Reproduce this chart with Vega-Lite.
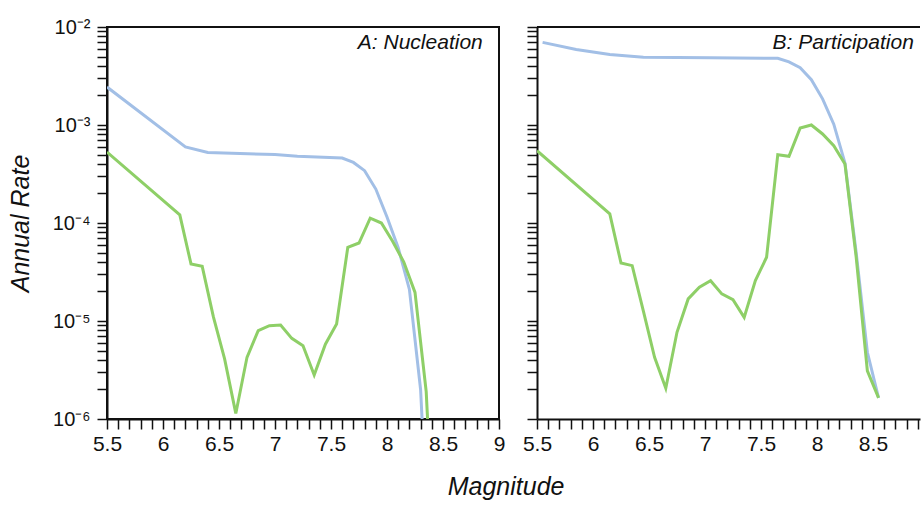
{
  "$schema": "https://vega.github.io/schema/vega-lite/v6.json",
  "padding": {"left": 7, "top": 16, "right": 0, "bottom": 0},
  "spacing": 38,
  "bounds": "flush",
  "title": {"text": "Magnitude", "orient": "bottom", "anchor": "middle", "fontSize": 25, "fontStyle": "italic", "fontWeight": "normal", "color": "#111", "offset": 20, "dx": 42},
  "datasets": {
    "rates": [
      {"panel": "A", "series": "total", "M": 5.5, "rate": 2.44e-3},
      {"panel": "A", "series": "total", "M": 6.2, "rate": 5.97e-4},
      {"panel": "A", "series": "total", "M": 6.4, "rate": 5.24e-4},
      {"panel": "A", "series": "total", "M": 7.0, "rate": 5.0e-4},
      {"panel": "A", "series": "total", "M": 7.2, "rate": 4.8e-4},
      {"panel": "A", "series": "total", "M": 7.6, "rate": 4.6e-4},
      {"panel": "A", "series": "total", "M": 7.7, "rate": 4.15e-4},
      {"panel": "A", "series": "total", "M": 7.8, "rate": 3.42e-4},
      {"panel": "A", "series": "total", "M": 7.9, "rate": 2.22e-4},
      {"panel": "A", "series": "total", "M": 8.0, "rate": 1.15e-4},
      {"panel": "A", "series": "total", "M": 8.1, "rate": 5.6e-5},
      {"panel": "A", "series": "total", "M": 8.2, "rate": 2.1e-5},
      {"panel": "A", "series": "total", "M": 8.3, "rate": 2.0e-6},
      {"panel": "A", "series": "total", "M": 8.4, "rate": 1e-8},
      {"panel": "A", "series": "fault", "M": 5.5, "rate": 5.3e-4},
      {"panel": "A", "series": "fault", "M": 6.15, "rate": 1.21e-4},
      {"panel": "A", "series": "fault", "M": 6.25, "rate": 3.82e-5},
      {"panel": "A", "series": "fault", "M": 6.35, "rate": 3.61e-5},
      {"panel": "A", "series": "fault", "M": 6.45, "rate": 1.1e-5},
      {"panel": "A", "series": "fault", "M": 6.55, "rate": 4.1e-6},
      {"panel": "A", "series": "fault", "M": 6.65, "rate": 1.14e-6},
      {"panel": "A", "series": "fault", "M": 6.75, "rate": 4.26e-6},
      {"panel": "A", "series": "fault", "M": 6.85, "rate": 7.96e-6},
      {"panel": "A", "series": "fault", "M": 6.95, "rate": 8.95e-6},
      {"panel": "A", "series": "fault", "M": 7.05, "rate": 9.1e-6},
      {"panel": "A", "series": "fault", "M": 7.15, "rate": 6.65e-6},
      {"panel": "A", "series": "fault", "M": 7.25, "rate": 5.6e-6},
      {"panel": "A", "series": "fault", "M": 7.35, "rate": 2.81e-6},
      {"panel": "A", "series": "fault", "M": 7.45, "rate": 5.8e-6},
      {"panel": "A", "series": "fault", "M": 7.55, "rate": 9.3e-6},
      {"panel": "A", "series": "fault", "M": 7.65, "rate": 5.65e-5},
      {"panel": "A", "series": "fault", "M": 7.75, "rate": 6.25e-5},
      {"panel": "A", "series": "fault", "M": 7.85, "rate": 1.12e-4},
      {"panel": "A", "series": "fault", "M": 7.95, "rate": 1.0e-4},
      {"panel": "A", "series": "fault", "M": 8.05, "rate": 6.5e-5},
      {"panel": "A", "series": "fault", "M": 8.15, "rate": 4.0e-5},
      {"panel": "A", "series": "fault", "M": 8.25, "rate": 1.96e-5},
      {"panel": "A", "series": "fault", "M": 8.35, "rate": 1.9e-6},
      {"panel": "A", "series": "fault", "M": 8.45, "rate": 1e-8},
      {"panel": "B", "series": "total", "M": 5.55, "rate": 6.97e-3},
      {"panel": "B", "series": "total", "M": 5.85, "rate": 5.9e-3},
      {"panel": "B", "series": "total", "M": 6.15, "rate": 5.25e-3},
      {"panel": "B", "series": "total", "M": 6.45, "rate": 4.9e-3},
      {"panel": "B", "series": "total", "M": 7.05, "rate": 4.85e-3},
      {"panel": "B", "series": "total", "M": 7.65, "rate": 4.8e-3},
      {"panel": "B", "series": "total", "M": 7.75, "rate": 4.4e-3},
      {"panel": "B", "series": "total", "M": 7.85, "rate": 3.85e-3},
      {"panel": "B", "series": "total", "M": 7.95, "rate": 2.9e-3},
      {"panel": "B", "series": "total", "M": 8.05, "rate": 1.85e-3},
      {"panel": "B", "series": "total", "M": 8.15, "rate": 1.02e-3},
      {"panel": "B", "series": "total", "M": 8.25, "rate": 4.1e-4},
      {"panel": "B", "series": "total", "M": 8.35, "rate": 5.0e-5},
      {"panel": "B", "series": "total", "M": 8.45, "rate": 4.8e-6},
      {"panel": "B", "series": "total", "M": 8.55, "rate": 1.64e-6},
      {"panel": "B", "series": "fault", "M": 5.5, "rate": 5.47e-4},
      {"panel": "B", "series": "fault", "M": 6.15, "rate": 1.24e-4},
      {"panel": "B", "series": "fault", "M": 6.25, "rate": 3.9e-5},
      {"panel": "B", "series": "fault", "M": 6.35, "rate": 3.67e-5},
      {"panel": "B", "series": "fault", "M": 6.45, "rate": 1.26e-5},
      {"panel": "B", "series": "fault", "M": 6.55, "rate": 4.26e-6},
      {"panel": "B", "series": "fault", "M": 6.65, "rate": 2.06e-6},
      {"panel": "B", "series": "fault", "M": 6.75, "rate": 7.67e-6},
      {"panel": "B", "series": "fault", "M": 6.85, "rate": 1.68e-5},
      {"panel": "B", "series": "fault", "M": 6.95, "rate": 2.21e-5},
      {"panel": "B", "series": "fault", "M": 7.05, "rate": 2.58e-5},
      {"panel": "B", "series": "fault", "M": 7.15, "rate": 1.89e-5},
      {"panel": "B", "series": "fault", "M": 7.25, "rate": 1.65e-5},
      {"panel": "B", "series": "fault", "M": 7.35, "rate": 1.09e-5},
      {"panel": "B", "series": "fault", "M": 7.45, "rate": 2.58e-5},
      {"panel": "B", "series": "fault", "M": 7.55, "rate": 4.47e-5},
      {"panel": "B", "series": "fault", "M": 7.65, "rate": 4.98e-4},
      {"panel": "B", "series": "fault", "M": 7.75, "rate": 4.79e-4},
      {"panel": "B", "series": "fault", "M": 7.85, "rate": 9.33e-4},
      {"panel": "B", "series": "fault", "M": 7.95, "rate": 1.0e-3},
      {"panel": "B", "series": "fault", "M": 8.05, "rate": 8.1e-4},
      {"panel": "B", "series": "fault", "M": 8.15, "rate": 6.15e-4},
      {"panel": "B", "series": "fault", "M": 8.25, "rate": 4.0e-4},
      {"panel": "B", "series": "fault", "M": 8.35, "rate": 4.5e-5},
      {"panel": "B", "series": "fault", "M": 8.45, "rate": 3.1e-6},
      {"panel": "B", "series": "fault", "M": 8.55, "rate": 1.64e-6}
    ]
  },
  "hconcat": [
    {
      "width": 392,
      "height": 392,
      "layer": [
        {
          "data": {"name": "rates"},
          "transform": [{"filter": "datum.panel == 'A'"}],
          "mark": {"type": "line", "strokeWidth": 3, "clip": true},
          "encoding": {
            "x": {"field": "M", "type": "quantitative",
              "scale": {"domain": [5.5, 9], "nice": false, "zero": false},
              "axis": {"title": null, "labelOverlap": false, "labelFlush": false, "labelFontSize": 21, "labelPadding": 4, "tickSize": 10, "tickCount": 1000,
                "values": [5.5,5.6,5.7,5.8,5.9,6,6.1,6.2,6.3,6.4,6.5,6.6,6.7,6.8,6.9,7,7.1,7.2,7.3,7.4,7.5,7.6,7.7,7.8,7.9,8,8.1,8.2,8.3,8.4,8.5,8.6,8.7,8.8,8.9,9],
                "labelExpr": "abs(datum.value*2 - round(datum.value*2)) < 0.001 ? format(datum.value, '~g') : ''",
                "encode": {"ticks": {"update": {"y2": {"signal": "abs(datum.value*2 - round(datum.value*2)) < 0.001 ? 10 : 5"}}}}
              }
            },
            "y": {"field": "rate", "type": "quantitative",
              "scale": {"type": "log", "domain": [1e-6, 1e-2], "nice": false},
              "axis": {"title": "Annual Rate", "labelOverlap": false, "labelFontSize": 20, "labelPadding": 7, "tickSize": 10, "tickCount": 1000, "titlePadding": 19, "titleFontSize": 25,
                "values": [1e-6,2e-6,3e-6,4e-6,5e-6,6e-6,7e-6,8e-6,9e-6,1e-5,2e-5,3e-5,4e-5,5e-5,6e-5,7e-5,8e-5,9e-5,1e-4,2e-4,3e-4,4e-4,5e-4,6e-4,7e-4,8e-4,9e-4,1e-3,2e-3,3e-3,4e-3,5e-3,6e-3,7e-3,8e-3,9e-3,1e-2],
                "labelExpr": "abs(log(datum.value)/LN10 - round(log(datum.value)/LN10)) < 0.001 ? '10' + ['⁻⁶','⁻⁵','⁻⁴','⁻³','⁻²'][round(log(datum.value)/LN10)+6] : ''",
                "encode": {"ticks": {"update": {"x2": {"signal": "abs(log(datum.value)/LN10 - round(log(datum.value)/LN10)) < 0.001 ? -10 : -5"}}}}
              }
            },
            "color": {"field": "series", "type": "nominal", "scale": {"domain": ["total", "fault"], "range": ["#a2bfe6", "#8ecf67"]}, "legend": null}
          }
        },
        {
          "data": {"values": [{}]},
          "mark": {"type": "text", "text": "A: Nucleation", "align": "right", "baseline": "middle", "fontSize": 21, "fontStyle": "italic", "color": "#111"},
          "encoding": {"x": {"datum": 8.855}, "y": {"datum": 0.0069}}
        }
      ]
    },
    {
      "width": 383,
      "height": 392,
      "view": {"stroke": null},
      "layer": [
        {
          "data": {"values": [{}]},
          "mark": {"type": "rule", "color": "#111", "strokeWidth": 2},
          "encoding": {"y": {"datum": 0.01}}
        },
        {
          "data": {"name": "rates"},
          "transform": [{"filter": "datum.panel == 'B'"}],
          "mark": {"type": "line", "strokeWidth": 3, "clip": true},
          "encoding": {
            "x": {"field": "M", "type": "quantitative",
              "scale": {"domain": [5.5, 8.92], "nice": false, "zero": false},
              "axis": {"title": null, "labelOverlap": false, "labelFlush": false, "labelFontSize": 21, "labelPadding": 4, "tickSize": 10, "tickCount": 1000,
                "values": [5.5,5.6,5.7,5.8,5.9,6,6.1,6.2,6.3,6.4,6.5,6.6,6.7,6.8,6.9,7,7.1,7.2,7.3,7.4,7.5,7.6,7.7,7.8,7.9,8,8.1,8.2,8.3,8.4,8.5,8.6,8.7,8.8,8.9],
                "labelExpr": "abs(datum.value*2 - round(datum.value*2)) < 0.001 ? format(datum.value, '~g') : ''",
                "encode": {"ticks": {"update": {"y2": {"signal": "abs(datum.value*2 - round(datum.value*2)) < 0.001 ? 10 : 5"}}}}
              }
            },
            "y": {"field": "rate", "type": "quantitative",
              "scale": {"type": "log", "domain": [1e-6, 1e-2], "nice": false},
              "axis": {"title": null, "labels": false, "tickSize": 10, "tickCount": 1000,
                "values": [1e-6,2e-6,3e-6,4e-6,5e-6,6e-6,7e-6,8e-6,9e-6,1e-5,2e-5,3e-5,4e-5,5e-5,6e-5,7e-5,8e-5,9e-5,1e-4,2e-4,3e-4,4e-4,5e-4,6e-4,7e-4,8e-4,9e-4,1e-3,2e-3,3e-3,4e-3,5e-3,6e-3,7e-3,8e-3,9e-3,1e-2],
                "encode": {"ticks": {"update": {"x2": {"signal": "abs(log(datum.value)/LN10 - round(log(datum.value)/LN10)) < 0.001 ? -10 : -5"}}}}
              }
            },
            "color": {"field": "series", "type": "nominal", "scale": {"domain": ["total", "fault"], "range": ["#a2bfe6", "#8ecf67"]}, "legend": null}
          }
        },
        {
          "data": {"values": [{}]},
          "mark": {"type": "text", "text": "B: Participation", "align": "right", "baseline": "middle", "fontSize": 21, "fontStyle": "italic", "color": "#111"},
          "encoding": {"x": {"datum": 8.865}, "y": {"datum": 0.0069}}
        }
      ]
    }
  ],
  "config": {
    "font": "Liberation Sans",
    "view": {"stroke": "#111", "strokeWidth": 2},
    "axis": {
      "grid": false,
      "domainColor": "#111", "domainWidth": 2,
      "tickColor": "#111", "tickWidth": 1.5,
      "labelColor": "#111",
      "titleColor": "#111", "titleFontSize": 25, "titleFontStyle": "italic", "titleFontWeight": "normal"
    }
  }
}
